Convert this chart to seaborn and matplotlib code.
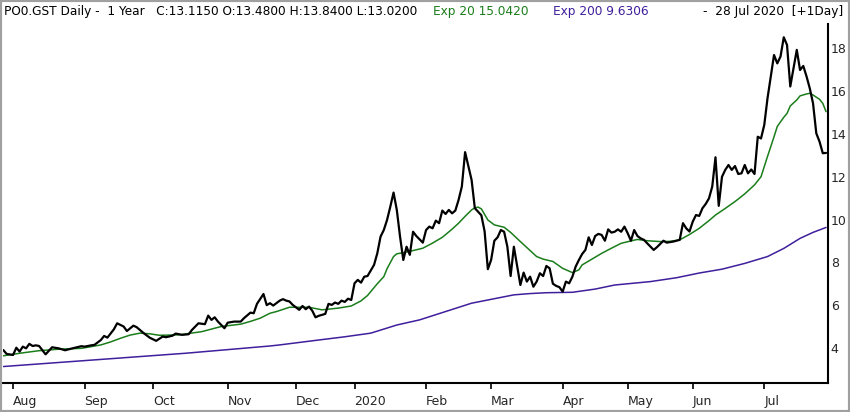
import numpy as np
import pandas as pd
import matplotlib
matplotlib.use("Agg")
import matplotlib.pyplot as plt
from matplotlib.patches import Rectangle
import seaborn as sns

# ---------------- data ----------------
holidays = ["2019-12-24", "2019-12-25", "2019-12-26", "2019-12-31",
            "2020-01-01", "2020-04-10", "2020-04-13", "2020-05-01"]
start_date = "2019-07-29"
end_date = "2020-07-28"

price_day = [0, 1, 3, 4, 5, 6, 7, 8, 9, 10, 11, 13, 15, 17, 19, 21, 24, 25, 27, 28,
             30, 31, 32, 34, 35, 37, 38, 40, 41, 43, 45, 47, 49, 50, 52, 53, 55, 57, 58, 60,
             62, 63, 64, 65, 66, 68, 69, 71, 73, 74, 76, 77, 78, 80, 81, 82, 83, 85, 86, 87,
             88, 89, 91, 92, 93, 94, 95, 96, 97, 99, 100, 101, 102, 103, 104, 105, 106, 107, 108, 109,
             110, 111, 112, 114, 115, 116, 117, 118, 119, 120, 121, 122, 123, 124, 125, 126, 127, 129, 130, 131,
             132, 133, 134, 135, 136, 137, 138, 139, 140, 141, 142, 144, 145, 147, 148, 149, 150, 151, 152, 153,
             154, 155, 156, 157, 158, 159, 160, 161, 162, 163, 164, 165, 166, 167, 168, 169, 170, 171, 172, 173,
             174, 175, 176, 177, 178, 179, 180, 181, 182, 183, 184, 185, 186, 187, 188, 189, 190, 191, 192, 193,
             194, 195, 196, 197, 198, 200, 201, 203, 204, 206, 207, 208, 209, 210, 211, 212, 213, 214, 215, 216,
             217, 218, 219, 220, 221, 222, 223, 224, 225, 226, 227, 228, 229, 230, 231, 232, 233, 234, 235, 236,
             237, 238, 239, 240, 241, 242, 243, 244, 245, 246, 247, 248, 249, 250, 251, 252, 253]
price_val = [3.90, 3.72, 3.67, 4.01, 3.83, 4.06, 3.98, 4.19, 4.09, 4.12, 4.09, 3.70, 4.03, 3.98, 3.89, 3.97, 4.08, 4.06, 4.12, 4.14,
             4.37, 4.56, 4.48, 4.87, 5.15, 5.00, 4.79, 5.04, 4.97, 4.71, 4.48, 4.33, 4.53, 4.50, 4.57, 4.67, 4.61, 4.64, 4.84, 5.15,
             5.11, 5.51, 5.31, 5.43, 5.23, 4.92, 5.18, 5.23, 5.23, 5.39, 5.65, 5.62, 6.06, 6.52, 6.00, 6.09, 5.98, 6.21, 6.28, 6.21,
             6.17, 6.01, 5.78, 5.96, 5.81, 5.93, 5.74, 5.43, 5.50, 5.59, 6.06, 6.01, 6.12, 6.06, 6.21, 6.15, 6.30, 6.24, 7.02, 7.18,
             7.05, 7.33, 7.36, 7.88, 8.42, 9.20, 9.51, 9.98, 10.60, 11.26, 10.45, 9.20, 8.11, 8.73, 8.35, 9.43, 9.23, 8.92, 9.51, 9.67,
             9.59, 9.95, 9.83, 10.42, 10.26, 10.45, 10.29, 10.42, 10.92, 11.54, 13.15, 11.85, 10.53, 10.20, 9.45, 7.68, 8.11, 9.01, 9.17, 9.51,
             9.43, 8.73, 7.36, 8.73, 7.82, 6.94, 7.52, 7.10, 7.33, 6.86, 7.10, 7.49, 7.36, 7.83, 7.72, 7.00, 6.90, 6.84, 6.63, 7.10,
             7.02, 7.33, 7.80, 8.11, 8.39, 8.58, 9.17, 8.81, 9.23, 9.33, 9.28, 9.01, 9.54, 9.39, 9.43, 9.54, 9.43, 9.67, 9.36, 9.01,
             9.51, 9.23, 9.12, 9.05, 8.89, 8.58, 8.71, 9.01, 8.92, 8.97, 9.01, 9.05, 9.83, 9.59, 9.44, 9.90, 10.21, 10.17, 10.53, 10.73,
             10.99, 11.54, 12.91, 10.64, 12.00, 12.32, 12.55, 12.32, 12.50, 12.13, 12.16, 12.55, 12.16, 12.34, 12.13, 13.87, 13.79, 14.42, 15.67, 16.69,
             17.69, 17.30, 17.62, 18.52, 18.16, 16.22, 17.07, 17.93, 16.99, 17.18, 16.69, 16.13, 15.43, 14.03, 13.64, 13.10, 13.115]

ema20_day = [0, 5, 11, 17, 24, 30, 33, 36, 39, 42, 45, 48, 54, 61, 64, 67, 73, 76, 79, 82,
             84, 88, 94, 98, 103, 107, 110, 112, 115, 117, 118, 120, 121, 123, 126, 129, 132, 135, 138, 140,
             142, 144, 145, 146, 147, 149, 151, 154, 156, 159, 162, 164, 166, 169, 172, 175, 177, 178, 181, 184,
             187, 190, 193, 195, 198, 202, 205, 208, 211, 214, 217, 219, 222, 225, 228, 231, 233, 235, 237, 238,
             240, 241, 242, 244, 245, 247, 248, 249, 251, 252, 253]
ema20_val = [3.63, 3.75, 3.87, 3.94, 3.98, 4.14, 4.28, 4.45, 4.60, 4.69, 4.66, 4.59, 4.61, 4.76, 4.88, 5.00, 5.11, 5.24, 5.39, 5.62,
             5.70, 5.90, 5.90, 5.78, 5.86, 5.96, 6.20, 6.45, 7.00, 7.33, 7.70, 8.27, 8.40, 8.45, 8.55, 8.66, 8.90, 9.17, 9.55, 9.83,
             10.15, 10.45, 10.55, 10.58, 10.50, 9.98, 9.75, 9.64, 9.40, 8.97, 8.55, 8.27, 8.15, 8.04, 7.72, 7.52, 7.65, 7.88, 8.15, 8.42,
             8.66, 8.89, 9.00, 9.07, 9.01, 8.97, 8.98, 9.05, 9.30, 9.59, 9.95, 10.21, 10.52, 10.84, 11.20, 11.62, 12.00, 12.95, 13.87, 14.35,
             14.78, 14.96, 15.31, 15.59, 15.78, 15.87, 15.90, 15.82, 15.62, 15.43, 15.042]

ema200_day = [0, 28, 56, 82, 85, 97, 105, 113, 121, 128, 136, 144, 149, 157, 162, 167, 175, 182, 188, 199,
              207, 214, 221, 228, 235, 240, 245, 249, 253]
ema200_val = [3.13, 3.44, 3.75, 4.09, 4.14, 4.37, 4.52, 4.69, 5.07, 5.31, 5.70, 6.09, 6.24, 6.48, 6.54, 6.58, 6.60, 6.75, 6.94, 7.10,
              7.28, 7.50, 7.68, 7.95, 8.27, 8.65, 9.12, 9.40, 9.6306]

y_ticks = [4, 6, 8, 10, 12, 14, 16, 18]
header_main = "PO0.GST Daily -  1 Year   C:13.1150 O:13.4800 H:13.8400 L:13.0200"
header_ema20 = "Exp 20 15.0420"
header_ema200 = "Exp 200 9.6306"
header_date = "-  28 Jul 2020  [+1Day]"

# ---------------- trading calendar ----------------
sessions = pd.bdate_range(start_date, end_date, freq="C", holidays=holidays)
months = sessions.to_period("M")
tick_pos, tick_lab = [], []
for i in range(1, len(sessions)):
    if months[i] != months[i - 1]:
        tick_pos.append(i)
        d = sessions[i]
        tick_lab.append(str(d.year) if d.month == 1 else d.strftime("%b"))

df_price = pd.DataFrame({"day": price_day, "val": price_val})
df_e20 = pd.DataFrame({"day": ema20_day, "val": ema20_val})
df_e200 = pd.DataFrame({"day": ema200_day, "val": ema200_val})

# ---------------- plot ----------------
sns.set_style("white")
plt.rcParams["font.family"] = ["DejaVu Sans"]

W, H = 850, 412
fig = plt.figure(figsize=(W / 100, H / 100), dpi=100)
ax = fig.add_axes([3 / W, 29 / H, 825 / W, 359 / H])

c_green = "#1b7d1b"
c_purple = "#3f1f9c"

sns.lineplot(data=df_e200, x="day", y="val", ax=ax, color=c_purple, lw=1.1, estimator=None)
sns.lineplot(data=df_e20, x="day", y="val", ax=ax, color=c_green, lw=1.1, estimator=None)
sns.lineplot(data=df_price, x="day", y="val", ax=ax, color="black", lw=1.6, estimator=None)

ax.set_xlim(-0.1, len(sessions) - 1 + 0.6)
ax.set_ylim(2.36, 19.14)
ax.set_xlabel("")
ax.set_ylabel("")

ax.set_xticks(tick_pos)
ax.set_xticklabels(tick_lab, ha="left", fontsize=9)
ax.set_yticks(y_ticks)
ax.set_yticklabels([str(v) for v in y_ticks], fontsize=9)

ax.yaxis.tick_right()
ax.tick_params(axis="y", length=0, pad=2, labelright=True, labelleft=False)
ax.tick_params(axis="x", direction="out", length=4.5, width=1.2, pad=4, color="black", bottom=True)

for s in ["left", "top"]:
    ax.spines[s].set_visible(False)
for s in ["right", "bottom"]:
    ax.spines[s].set_visible(True)
    ax.spines[s].set_color("black")
    ax.spines[s].set_linewidth(1.5)

# header texts
ty = 1 - 12 / H
fig.text(4 / W, ty, header_main, fontsize=8.7, color="black", va="center", ha="left")
fig.text(433 / W, ty, header_ema20, fontsize=8.7, color=c_green, va="center", ha="left")
fig.text(553 / W, ty, header_ema200, fontsize=8.7, color=c_purple, va="center", ha="left")
fig.text(843 / W, ty, header_date, fontsize=8.7, color="black", va="center", ha="right")

# outer grey frame
fig.add_artist(Rectangle((0, 0), 1, 1, transform=fig.transFigure, fill=False,
                         edgecolor="#a0a0a0", lw=3, clip_on=False))

fig.savefig("out.png", dpi=100)
